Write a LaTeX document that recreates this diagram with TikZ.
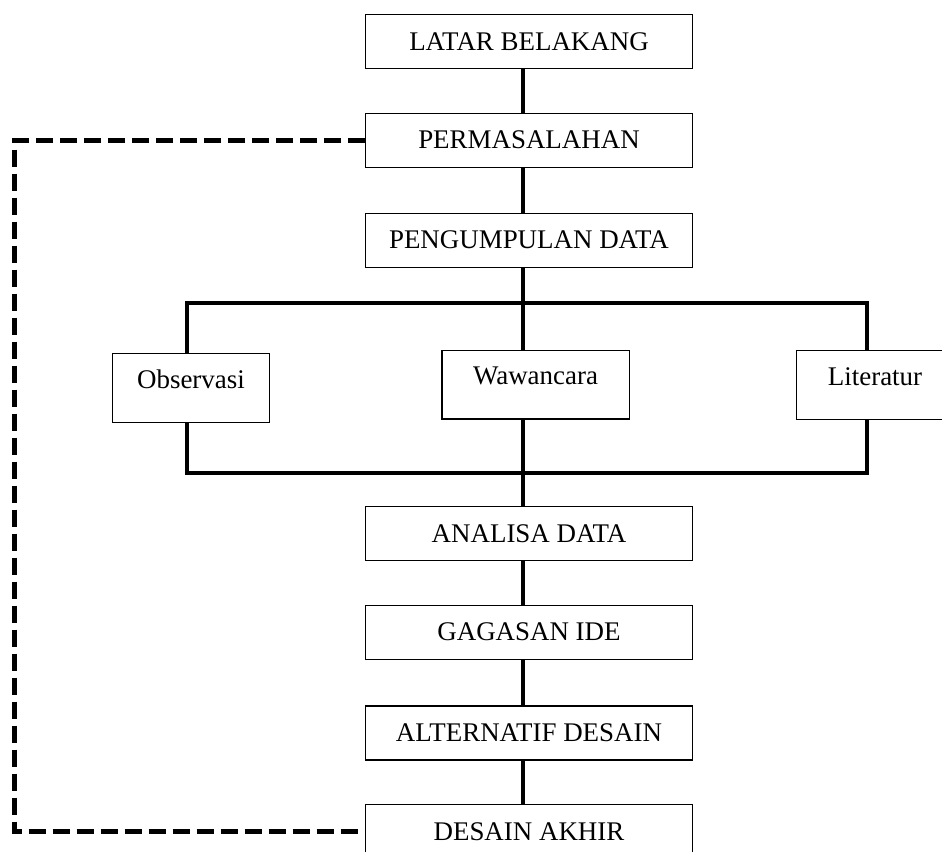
\documentclass[tikz,border=0pt]{standalone}
\usepackage{fontspec}
\setmainfont{Liberation Serif}
\usetikzlibrary{positioning}

\begin{document}
\begin{tikzpicture}[x=0.75pt,y=-0.75pt,
    node distance=32.5pt,
    box/.style={draw,line width=1pt,minimum width=245pt,minimum height=40.5pt,
      inner sep=0pt,font=\fontsize{20.2}{24}\selectfont},
    sub/.style={draw,line width=1pt,minimum height=51.5pt,inner sep=0pt,
      text height=14pt,text depth=14pt,font=\fontsize{20.2}{24}\selectfont},
    link/.style={line width=3pt},
    busline/.style={line width=3pt},
    loopback/.style={line width=3.75pt,dash pattern=on 12.75pt off 5.25pt}]
  \useasboundingbox (0,0) rectangle (942,851);
  \node[box] (lb) at (529,41.5) {LATAR BELAKANG};
  \node[box,below=of lb] (pm) {PERMASALAHAN};
  \node[box,below=33.5pt of pm] (pd) {PENGUMPULAN DATA};
  \node[sub,minimum width=117.5pt] (obs) at (191,388) {Observasi};
  \node[sub,minimum width=140.5pt] (waw) at (535.5,384.5) {Wawancara};
  \node[sub,minimum width=117.5pt] (lit) at (875,385) {Literatur};
  \node[box] (an) at (529,533.5) {ANALISA DATA};
  \node[box,below=of an] (gi) {GAGASAN IDE};
  \node[box,below=34pt of gi] (ad) {ALTERNATIF DESAIN};
  \node[box,below=of ad] (da) {DESAIN AKHIR};
  \coordinate (ax) at (523,0);
  \coordinate (tl) at (187,303); \coordinate (tr) at (867,303);
  \coordinate (bl) at (187,473); \coordinate (br) at (867,473);
  \coordinate (fbx) at (14.5,0);
  \draw[link] (lb.south -| ax)--(pm.north -| ax); \draw[link] (pm.south -| ax)--(pd.north -| ax);
  \draw[link] (pd.south -| ax)--(waw.north -| ax);
  \draw[busline] (obs.north -| tl) -- (tl) -- (tr) -- (lit.north -| tr);
  \draw[busline] (obs.south -| bl) -- (bl) -- (br) -- (lit.south -| br);
  \draw[link] (waw.south -| ax)--(an.north -| ax);
  \draw[link] (an.south -| ax)--(gi.north -| ax); \draw[link] (gi.south -| ax)--(ad.north -| ax);
  \draw[link] (ad.south -| ax)--(da.north -| ax);
  \draw[loopback] (pm.west) -- (pm.west -| fbx) -- (da.west -| fbx) -- (da.west);
\end{tikzpicture}
\end{document}
